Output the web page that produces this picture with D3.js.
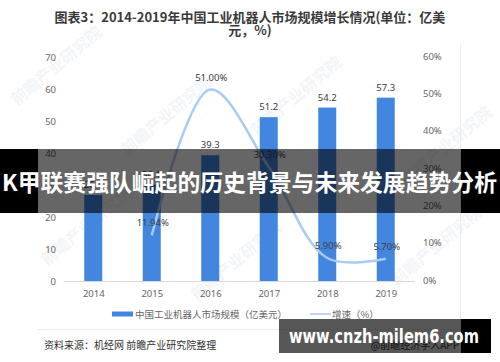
<!DOCTYPE html>
<html>
<head>
<meta charset="utf-8">
<script src="https://cdn.jsdelivr.net/npm/d3@7"></script>
<style>
  body { margin: 0; background: #fff; }
  svg { display: block; font-family: "Noto Sans CJK SC", "Noto Sans", sans-serif; }
</style>
</head>
<body>
<div id="chart"></div>
<script>
const years = ['2014', '2015', '2016', '2017', '2018', '2019'];
const marketSize = [26.9, 30.1, 39.3, 51.2, 54.2, 57.3];
const growth = [null, 11.94, 51.00, 30.30, 5.90, 5.70];
const leftTicks = [0, 10, 20, 30, 40, 50, 60, 70];
const rightTicks = [0, 10, 20, 30, 40, 50, 60];

const W = 500, H = 362;
const svg = d3.select('#chart').append('svg')
    .attr('width', W)
    .attr('height', H);

const x = d3.scalePoint().domain(years).range([64, 415]).padding(0.5);
const yLeft = d3.scaleLinear().domain([0, 70]).range([281, 57]);
const yRight = d3.scaleLinear().domain([0, 60]).range([280, 56]);

// faint watermarks
[[60, 70], [170, 120], [300, 100], [450, 150], [90, 230], [240, 265], [440, 250]].forEach(([wx, wy]) => {
    svg.append('text')
        .attr('transform', `translate(${wx},${wy}) rotate(-40)`)
        .attr('text-anchor', 'middle')
        .attr('font-size', 16)
        .attr('font-weight', 'bold')
        .attr('fill', '#e4eaf1')
        .attr('opacity', 0.45)
        .text('前瞻产业研究院');
});

// title
svg.append('text')
    .attr('x', 250).attr('y', 22)
    .attr('text-anchor', 'middle')
    .attr('font-size', 13).attr('font-weight', 'bold')
    .attr('fill', '#3a3a3a')
    .text('图表3：2014-2019年中国工业机器人市场规模增长情况(单位：亿美');
svg.append('text')
    .attr('x', 250).attr('y', 35)
    .attr('text-anchor', 'middle')
    .attr('font-size', 13).attr('font-weight', 'bold')
    .attr('fill', '#3a3a3a')
    .text('元，%)');

// frame lines
svg.append('line')
    .attr('x1', 460.5).attr('x2', 460.5).attr('y1', 44).attr('y2', 329)
    .attr('stroke', '#e6edf5');
svg.append('line')
    .attr('x1', 38).attr('x2', 460).attr('y1', 329.5).attr('y2', 329.5)
    .attr('stroke', '#e6edf5');

// axes
const axisLeft = svg.append('g')
    .attr('transform', 'translate(56,0)')
    .call(d3.axisLeft(yLeft).tickValues(leftTicks).tickSize(0).tickPadding(0));
axisLeft.select('.domain').remove();
axisLeft.selectAll('text')
    .attr('font-size', 9.5).attr('fill', '#666')
    .attr('font-family', '"Noto Sans", sans-serif');

const axisRight = svg.append('g')
    .attr('transform', 'translate(423,0)')
    .call(d3.axisRight(yRight).tickValues(rightTicks).tickSize(0).tickPadding(0)
        .tickFormat((d) => d + '%'));
axisRight.select('.domain').remove();
axisRight.selectAll('text')
    .attr('font-size', 9.5).attr('fill', '#666')
    .attr('font-family', '"Noto Sans", sans-serif');

const axisBottom = svg.append('g')
    .attr('transform', 'translate(0,281)')
    .call(d3.axisBottom(x).tickSize(0).tickPadding(9));
axisBottom.select('.domain')
    .attr('d', 'M64,0.5H415').attr('stroke', '#d9d9d9');
axisBottom.selectAll('text')
    .attr('font-size', 9.5).attr('fill', '#666')
    .attr('font-family', '"Noto Sans", sans-serif');

// bars
const BAR_W = 18;
svg.append('g').selectAll('rect')
    .data(years)
    .join('rect')
    .attr('x', (d) => x(d) - BAR_W / 2)
    .attr('y', (d, i) => yLeft(marketSize[i]))
    .attr('width', BAR_W)
    .attr('height', (d, i) => yLeft(0) - yLeft(marketSize[i]))
    .attr('fill', '#4286e0');

svg.append('g').selectAll('text')
    .data(years)
    .join('text')
    .attr('x', (d) => x(d))
    .attr('y', (d, i) => yLeft(marketSize[i]) - 7)
    .attr('text-anchor', 'middle')
    .attr('font-size', 9.5).attr('fill', '#404040')
    .attr('font-family', '"Noto Sans", sans-serif')
    .text((d, i) => marketSize[i].toFixed(1));

// growth line
const pts = years.map((d, i) => [d, growth[i]]).filter((p) => p[1] !== null);
const line = d3.line()
    .x((p) => x(p[0]))
    .y((p) => yRight(p[1]))
    .curve(d3.curveCatmullRom.alpha(0.5));
svg.append('path')
    .datum(pts)
    .attr('d', line)
    .attr('fill', 'none')
    .attr('stroke', '#a8cbf3')
    .attr('stroke-width', 2.5);

svg.append('g').selectAll('text')
    .data(pts)
    .join('text')
    .attr('x', (p) => x(p[0]) + 1)
    .attr('y', (p) => yRight(p[1]) - 9)
    .attr('text-anchor', 'middle')
    .attr('font-size', 9.5).attr('fill', '#404040')
    .attr('font-family', '"Noto Sans", sans-serif')
    .text((p) => p[1].toFixed(2) + '%');

// legend
const legend = svg.append('g').attr('transform', 'translate(0,314)');
legend.append('rect')
    .attr('x', 112).attr('y', -2.5).attr('width', 21).attr('height', 5)
    .attr('fill', '#4286e0');
legend.append('text')
    .attr('x', 135).attr('y', 3.5)
    .attr('font-size', 9.5).attr('fill', '#666')
    .text('中国工业机器人市场规模（亿美元）');
legend.append('line')
    .attr('x1', 310).attr('x2', 331).attr('y1', 0).attr('y2', 0)
    .attr('stroke', '#bcd8f6').attr('stroke-width', 2);
legend.append('text')
    .attr('x', 332).attr('y', 3.5)
    .attr('font-size', 9.5).attr('fill', '#666')
    .text('增速（%）');

// source
svg.append('text')
    .attr('x', 44).attr('y', 349)
    .attr('font-size', 10).attr('fill', '#333')
    .text('资料来源：机经网 前瞻产业研究院整理');
svg.append('text')
    .attr('x', 459).attr('y', 349)
    .attr('text-anchor', 'end')
    .attr('font-size', 10).attr('fill', '#333')
    .text('@前瞻经济学人APP');

// overlay banner
svg.append('rect')
    .attr('x', 38).attr('y', 149).attr('width', 423).attr('height', 64)
    .attr('fill', 'rgba(0,0,0,0.6)');
svg.append('rect')
    .attr('x', 0).attr('y', 149).attr('width', 38).attr('height', 64)
    .attr('fill', '#000');
svg.append('rect')
    .attr('x', 461).attr('y', 149).attr('width', 39).attr('height', 64)
    .attr('fill', '#000');
svg.append('text')
    .attr('x', 2).attr('y', 191)
    .attr('font-size', 23).attr('font-weight', 'bold')
    .attr('fill', '#fff')
    .attr('textLength', 495).attr('lengthAdjust', 'spacingAndGlyphs')
    .text('K甲联赛强队崛起的历史背景与未来发展趋势分析');

// url banner
svg.append('rect')
    .attr('x', 279).attr('y', 319).attr('width', 182).attr('height', 34)
    .attr('fill', 'rgba(0,0,0,0.66)');
svg.append('rect')
    .attr('x', 461).attr('y', 319).attr('width', 30).attr('height', 34)
    .attr('fill', '#000');
svg.append('text')
    .attr('x', 289).attr('y', 343)
    .attr('font-size', 20).attr('font-weight', 'bold')
    .attr('font-family', '"DejaVu Sans", sans-serif')
    .attr('fill', '#fff')
    .attr('textLength', 190).attr('lengthAdjust', 'spacingAndGlyphs')
    .text('www.cnzh-milem6.com');
</script>
</body>
</html>
